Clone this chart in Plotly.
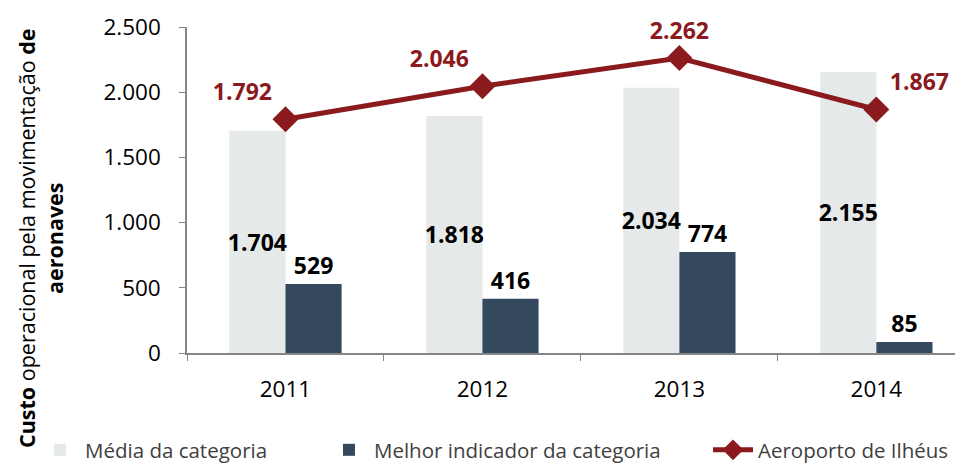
import plotly.graph_objects as go

years = ["2011", "2012", "2013", "2014"]
media_categoria = [1704, 1818, 2034, 2155]
melhor_indicador = [529, 416, 774, 85]
aeroporto_ilheus = [1792, 2046, 2262, 1867]
line_text_pos = ["top left", "top left", "top center", "top right"]

FONT = "Open Sans"
BODY = 8                       # default page margin around the plot div
FIG_W, FIG_H = 963 - BODY, 466 - BODY
# plot area in page pixels (from the reference)
PAGE_L, PAGE_R, PAGE_T, PAGE_B = 187, 963, 27, 353
L, R, T, B = PAGE_L - BODY, PAGE_R - BODY, PAGE_T - BODY, PAGE_B - BODY
PW, PH = R - L, B - T


def px_x(page_px):
    return (page_px - BODY - L) / PW


def px_y(page_py):
    return (B - (page_py - BODY)) / PH


fig = go.Figure()
fig.add_trace(go.Bar(
    x=years, y=media_categoria, name="Média da categoria", legend="legend",
    marker=dict(color="#E6E9E9", line=dict(width=0)),
    texttemplate="%{y:,.0f}", textposition="inside", insidetextanchor="middle",
    textangle=0, constraintext="none",
    textfont=dict(family=FONT, size=23, color="#000000", weight="bold"),
))
fig.add_trace(go.Bar(
    x=years, y=melhor_indicador, name="Melhor indicador da categoria", legend="legend2",
    marker=dict(color="#34495E", line=dict(width=0)),
    texttemplate="%{y:,.0f}", textposition="outside",
    textangle=0, constraintext="none", cliponaxis=False,
    textfont=dict(family=FONT, size=23, color="#000000", weight="bold"),
))
fig.add_trace(go.Scatter(
    x=years, y=aeroporto_ilheus, name="Aeroporto de Ilhéus", legend="legend3",
    mode="lines+markers+text",
    line=dict(color="#8B1A1E", width=5),
    marker=dict(symbol="diamond", size=20, color="#8B1A1E"),
    texttemplate="%{y:,.0f}", textposition=line_text_pos,
    textfont=dict(family=FONT, size=23, color="#8B1A1E", weight="bold"),
    cliponaxis=False,
))

legend_common = dict(
    orientation="h", yanchor="top", xanchor="left", y=px_y(430),
    font=dict(family=FONT, size=20.5, color="#404040"),
    itemwidth=40, bgcolor="rgba(0,0,0,0)",
)

fig.update_layout(
    width=FIG_W, height=FIG_H,
    margin=dict(l=L, r=FIG_W - R, t=T, b=FIG_H - B, pad=0, autoexpand=False),
    paper_bgcolor="white", plot_bgcolor="white",
    separators=",.",
    barmode="group", bargap=0.43, bargroupgap=0,
    font=dict(family=FONT, size=20, color="#000000"),
    showlegend=True,
    legend=dict(legend_common, x=px_x(35)),
    legend2=dict(legend_common, x=px_x(324)),
    legend3=dict(legend_common, x=px_x(708)),
    annotations=[dict(
        text="<b>Custo</b> operacional pela movimentação <b>de</b><br><b>aeronaves</b>",
        textangle=-90, xref="paper", yref="paper",
        x=px_x(40), y=px_y(238),
        xanchor="center", yanchor="middle", showarrow=False, align="center",
        font=dict(family=FONT, size=21.5, color="#000000"),
    )],
)
fig.update_yaxes(
    range=[0, 2500], dtick=500, tickformat=",.0f",
    showgrid=False, zeroline=False,
    showline=True, linecolor="#868686", linewidth=1.5,
    ticks="outside", ticklen=6, tickcolor="#868686",
    ticklabelstandoff=14,
    tickfont=dict(family=FONT, size=22.5, color="#000000"),
)
fig.update_xaxes(
    range=[-0.5, 3.44], showgrid=False,
    showline=True, linecolor="#868686", linewidth=1.5,
    ticks="outside", ticklen=6, tickcolor="#868686", tickson="boundaries",
    ticklabelstandoff=15,
    tickfont=dict(family=FONT, size=22.5, color="#000000"),
)

fig.write_html("out.html")
